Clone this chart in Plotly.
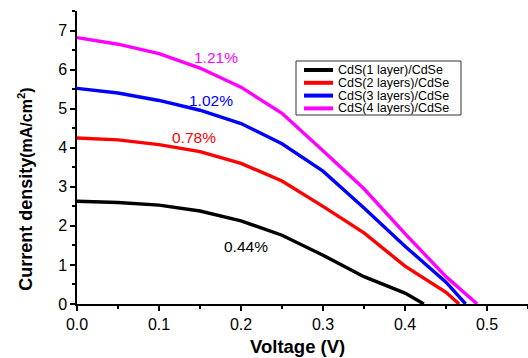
import plotly.graph_objects as go

v1 = [0.0, 0.05, 0.1, 0.15, 0.2, 0.25, 0.3, 0.35, 0.4, 0.423]
j1 = [2.63, 2.6, 2.53, 2.38, 2.13, 1.76, 1.25, 0.70, 0.28, 0.0]
v2 = [0.0, 0.05, 0.1, 0.15, 0.2, 0.25, 0.3, 0.35, 0.4, 0.45, 0.466]
j2 = [4.25, 4.2, 4.08, 3.9, 3.6, 3.15, 2.5, 1.82, 0.97, 0.3, 0.0]
v3 = [0.0, 0.05, 0.1, 0.15, 0.2, 0.25, 0.3, 0.35, 0.4, 0.45, 0.474]
j3 = [5.52, 5.4, 5.21, 4.96, 4.62, 4.1, 3.4, 2.46, 1.48, 0.56, 0.0]
v4 = [0.0, 0.05, 0.1, 0.15, 0.2, 0.25, 0.3, 0.35, 0.4, 0.45, 0.488]
j4 = [6.82, 6.65, 6.41, 6.04, 5.55, 4.88, 3.92, 2.95, 1.8, 0.7, 0.0]

names = ["CdS(1 layer)/CdSe", "CdS(2 layers)/CdSe", "CdS(3 layers)/CdSe", "CdS(4 layers)/CdSe"]
colors = ["#000000", "#ff0000", "#0000ff", "#ff00ff"]
eff_labels = ["0.44%", "0.78%", "1.02%", "1.21%"]
label_x = [0.206, 0.1427, 0.163, 0.1695]
label_y = [1.47, 4.27, 5.22, 6.30]

FONT = "Liberation Sans, Arial"

fig = go.Figure()
for v, j, n, c in zip([v1, v2, v3, v4], [j1, j2, j3, j4], names, colors):
    fig.add_trace(go.Scatter(x=v, y=j, mode="lines", name=n, showlegend=False,
                             line=dict(color=c, width=3.4)))

for lx, ly, t, c in zip(label_x, label_y, eff_labels, colors):
    fig.add_annotation(x=lx, y=ly, text=t, showarrow=False,
                       font=dict(color=c, size=15.5, family=FONT),
                       xanchor="center", yanchor="middle")

# custom compact legend (paper coordinates)
PW, PH = 451.0, 293.0
def px_x(p):
    return (p - 77) / PW
def px_y(p):
    return (304 - p) / PH

fig.add_shape(type="rect", xref="paper", yref="paper",
              x0=px_x(296), x1=px_x(461), y0=px_y(115), y1=px_y(61),
              line=dict(color="#333333", width=1), fillcolor="white", layer="above")
row_y = [70, 82.8, 95.6, 108.4]
for ry, n, c in zip(row_y, names, colors):
    fig.add_shape(type="line", xref="paper", yref="paper",
                  x0=px_x(304), x1=px_x(333), y0=px_y(ry), y1=px_y(ry),
                  line=dict(color=c, width=4), layer="above")
    fig.add_annotation(xref="paper", yref="paper", x=px_x(337), y=px_y(ry),
                       text=n, showarrow=False, xanchor="left", yanchor="middle",
                       height=12.4, borderpad=0, valign="middle",
                       font=dict(size=12.5, family=FONT, color="black"))

# axis titles
fig.add_annotation(xref="paper", yref="paper", x=0.488, y=px_y(358),
                   text="<b>Voltage (V)</b>", showarrow=False, borderpad=0,
                   font=dict(size=18.5, family=FONT), xanchor="center", yanchor="bottom")
fig.add_annotation(xref="paper", yref="paper", x=-0.113, y=0.39,
                   text="<b>Current density<span style='font-size:16px'>(mA/cm<sup style='font-size:17px'>2</sup>)</span></b>",
                   showarrow=False, textangle=-90,
                   font=dict(size=18, family=FONT), xanchor="center", yanchor="middle")

fig.update_layout(
    width=528, height=358,
    margin=dict(l=77, r=0, t=11, b=54, autoexpand=False),
    paper_bgcolor="white", plot_bgcolor="white",
    font=dict(family=FONT, color="black"),
    showlegend=False,
)
fig.update_xaxes(range=[0, 0.55], tickvals=[0, 0.1, 0.2, 0.3, 0.4, 0.5], tickformat=".1f",
                 ticks="outside", ticklen=5, tickwidth=1.5, tickcolor="black",
                 minor=dict(dtick=0.05, ticks="outside", ticklen=3, tickcolor="black", tickwidth=1.5),
                 showline=True, linecolor="black", linewidth=1.5, showgrid=False, zeroline=False,
                 tickfont=dict(size=16), automargin=False)
fig.update_yaxes(range=[0, 7.5], tickvals=[0, 1, 2, 3, 4, 5, 6, 7],
                 ticks="outside", ticklen=5, tickwidth=1.5, tickcolor="black",
                 minor=dict(dtick=0.5, ticks="outside", ticklen=3, tickcolor="black", tickwidth=1.5),
                 showline=True, linecolor="black", linewidth=1.5, showgrid=False, zeroline=False,
                 tickfont=dict(size=16), automargin=False)

fig.write_html("out.html", config={"displayModeBar": False},
               post_script="document.body.style.margin='0';")
